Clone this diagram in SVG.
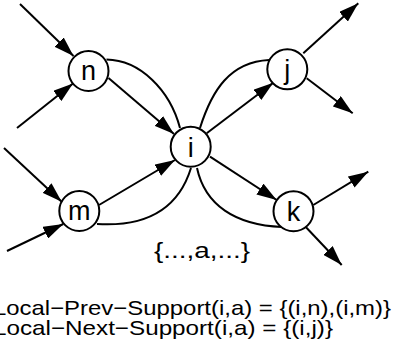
<svg xmlns="http://www.w3.org/2000/svg" width="393" height="352" viewBox="0 0 393 352">
<style>
.node circle{fill:#fff;stroke:#000;stroke-width:2}
.node text{font-family:"Liberation Sans",Arial,sans-serif;font-size:27px;text-anchor:middle;fill:#000}
.edge{fill:none;stroke:#000;stroke-width:2}
.arr{marker-end:url(#ah)}
.lbl{font-family:"Liberation Sans",Arial,sans-serif;font-size:22px;fill:#000}
.sup{font-family:"Liberation Sans",Arial,sans-serif;font-size:21px;fill:#000}
</style>
<defs>
<marker id="ah" markerUnits="userSpaceOnUse" markerWidth="20" markerHeight="13" refX="20" refY="6.5" orient="auto"><path d="M0,0 L20,6.5 L0,13 z" fill="#000"/></marker>
</defs>
<rect width="393" height="352" fill="#fff"/>
<g id="connectors">
<line class="edge arr" x1="20" y1="4" x2="73.5" y2="56"/>
<line class="edge arr" x1="17" y1="128" x2="73" y2="83.5"/>
<line class="edge arr" x1="108.5" y1="78" x2="174" y2="134"/>
<path class="edge" d="M106.5,59.5 C140,60 170,90 180,128"/>
<line class="edge arr" x1="4" y1="148" x2="61.7" y2="201.7"/>
<line class="edge arr" x1="7" y1="251" x2="63.3" y2="224"/>
<line class="edge arr" x1="99" y1="205" x2="175" y2="160"/>
<path class="edge" d="M97,224 C145,227 178,210 191,168"/>
<line class="edge arr" x1="206.7" y1="133.3" x2="273.3" y2="82.7"/>
<path class="edge" d="M200,128 C212,90 230,62 269,60"/>
<line class="edge arr" x1="303.3" y1="53.3" x2="358.3" y2="3.3"/>
<line class="edge arr" x1="306.7" y1="78.3" x2="352.7" y2="113.3"/>
<line class="edge arr" x1="210" y1="156.7" x2="276.7" y2="200"/>
<path class="edge" d="M197,168 C205,205 235,225 282,227"/>
<line class="edge arr" x1="313.3" y1="205" x2="368.3" y2="171.7"/>
<line class="edge arr" x1="306" y1="227.3" x2="341.7" y2="265"/>
</g>
<g id="node-n" class="node"><circle cx="88.5" cy="71" r="20"/><text x="88.5" y="80">n</text></g>
<g id="node-m" class="node"><circle cx="79.3" cy="211" r="20"/><text x="79.3" y="220">m</text></g>
<g id="node-i" class="node"><circle cx="190.7" cy="146.7" r="20"/><text x="190.7" y="157">i</text></g>
<g id="node-j" class="node"><circle cx="287.3" cy="69.3" r="20"/><text x="287.3" y="78.5">j</text></g>
<g id="node-k" class="node"><circle cx="293.5" cy="211.2" r="20"/><text x="293.5" y="220.5">k</text></g>
<text class="lbl" x="154" y="258" textLength="96" lengthAdjust="spacingAndGlyphs">{...,a,...}</text>
<text class="sup" x="-7" y="315" textLength="398" lengthAdjust="spacingAndGlyphs">Local−Prev−Support(i,a) = {(i,n),(i,m)}</text>
<text class="sup" x="-7" y="335" textLength="340" lengthAdjust="spacingAndGlyphs">Local−Next−Support(i,a) = {(i,j)}</text>
</svg>
